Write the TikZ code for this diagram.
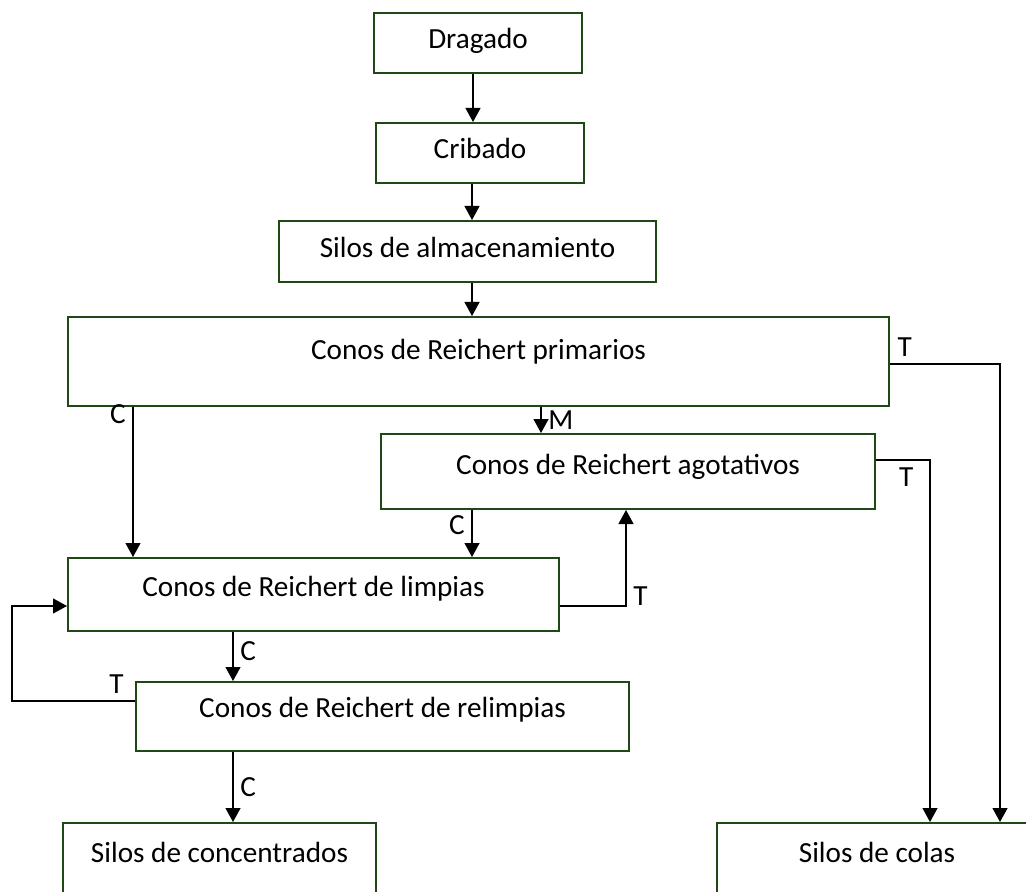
\documentclass[tikz,border=0pt]{standalone}
\usepackage{fontspec}
\setmainfont{Carlito}
\usetikzlibrary{arrows.meta,positioning}
\definecolor{boxgreen}{RGB}{30,72,20}

\begin{document}
\begin{tikzpicture}[x=0.5pt, y=-0.5pt,
    font=\fontsize{14.6pt}{17.5pt}\selectfont,
    box/.style={draw=boxgreen, line width=1pt, anchor=north west, inner sep=0pt,
        align=center, text height=10pt, text depth=4pt},
    flow/.style={-{Triangle[length=7pt,width=7.5pt]}, line width=0.6pt}]
    \useasboundingbox (0,0) rectangle (1026,892);

    % Boxes
    \node[box, minimum width=104pt, minimum height=30pt] (drag) at (373,12) {Dragado};
    \node[box, minimum width=104pt, minimum height=30pt] (crib) at (375,122) {Cribado};
    \node[box, minimum width=188.5pt, minimum height=30.5pt] (alm) at (278,220) {Silos de almacenamiento};
    \node[box, minimum width=410.5pt, minimum height=44.5pt, text depth=12pt] (prim) at (67,316) {Conos de Reichert primarios};
    \node[box, minimum width=247pt, minimum height=37.5pt, text depth=7pt] (agot) at (380,433) {Conos de Reichert agotativos};
    \node[box, minimum width=245.5pt, minimum height=36.5pt, text depth=8pt] (limp) at (67,557) {Conos de Reichert de limpias};
    \node[box, minimum width=246.5pt, minimum height=34.5pt, text depth=9pt] (relimp) at (135,681) {Conos de Reichert de relimpias};
    \node[box, minimum width=156.5pt, minimum height=40pt, text depth=11pt] (conc) at (62,822) {Silos de concentrados};
    \node[box, minimum width=160pt, minimum height=40pt, text depth=11pt] (colas) at (716,822) {Silos de colas};

    % Main line
    \draw[flow] (drag.south -| 473,0) -- (crib.north -| 473,0);
    \draw[flow] (crib.south -| 472,0) -- (alm.north -| 472,0);
    \draw[flow] (alm.south -| 472,0) -- (prim.north -| 472,0);

    % Primarios
    \draw[flow] (prim.east |- 0,364) -| (colas.north -| 1000,0) node[pos=0.067, above] {T};
    \draw[flow] (prim.south -| 541,0) -- (agot.north -| 541,0) node[midway, right] {M};
    \draw[flow] (prim.south -| 133,0) -- (limp.north -| 133,0) node[pos=0.05, left] {C};

    % Agotativos
    \draw[flow] (agot.east |- 0,460) -| (colas.north -| 930,0) node[pos=0.28, below] {T};
    \draw[flow] (agot.south -| 472,0) -- (limp.north -| 472,0) node[pos=0.33, left] {C};

    % Limpias and relimpias
    \draw[flow] (limp.east |- 0,606) -| (agot.south -| 626,0) node[pos=0.55, right] {T};
    \draw[flow] (limp.south -| 233,0) -- (relimp.north -| 233,0) node[pos=0.4, right] {C};
    \draw[flow] (relimp.west |- 0,701) -- ++(-123,0) node[pos=0.15, above] {T}
        |- (limp.west |- 0,606);
    \draw[flow] (relimp.south -| 233,0) -- (conc.north -| 233,0) node[midway, right] {C};
\end{tikzpicture}
\end{document}
